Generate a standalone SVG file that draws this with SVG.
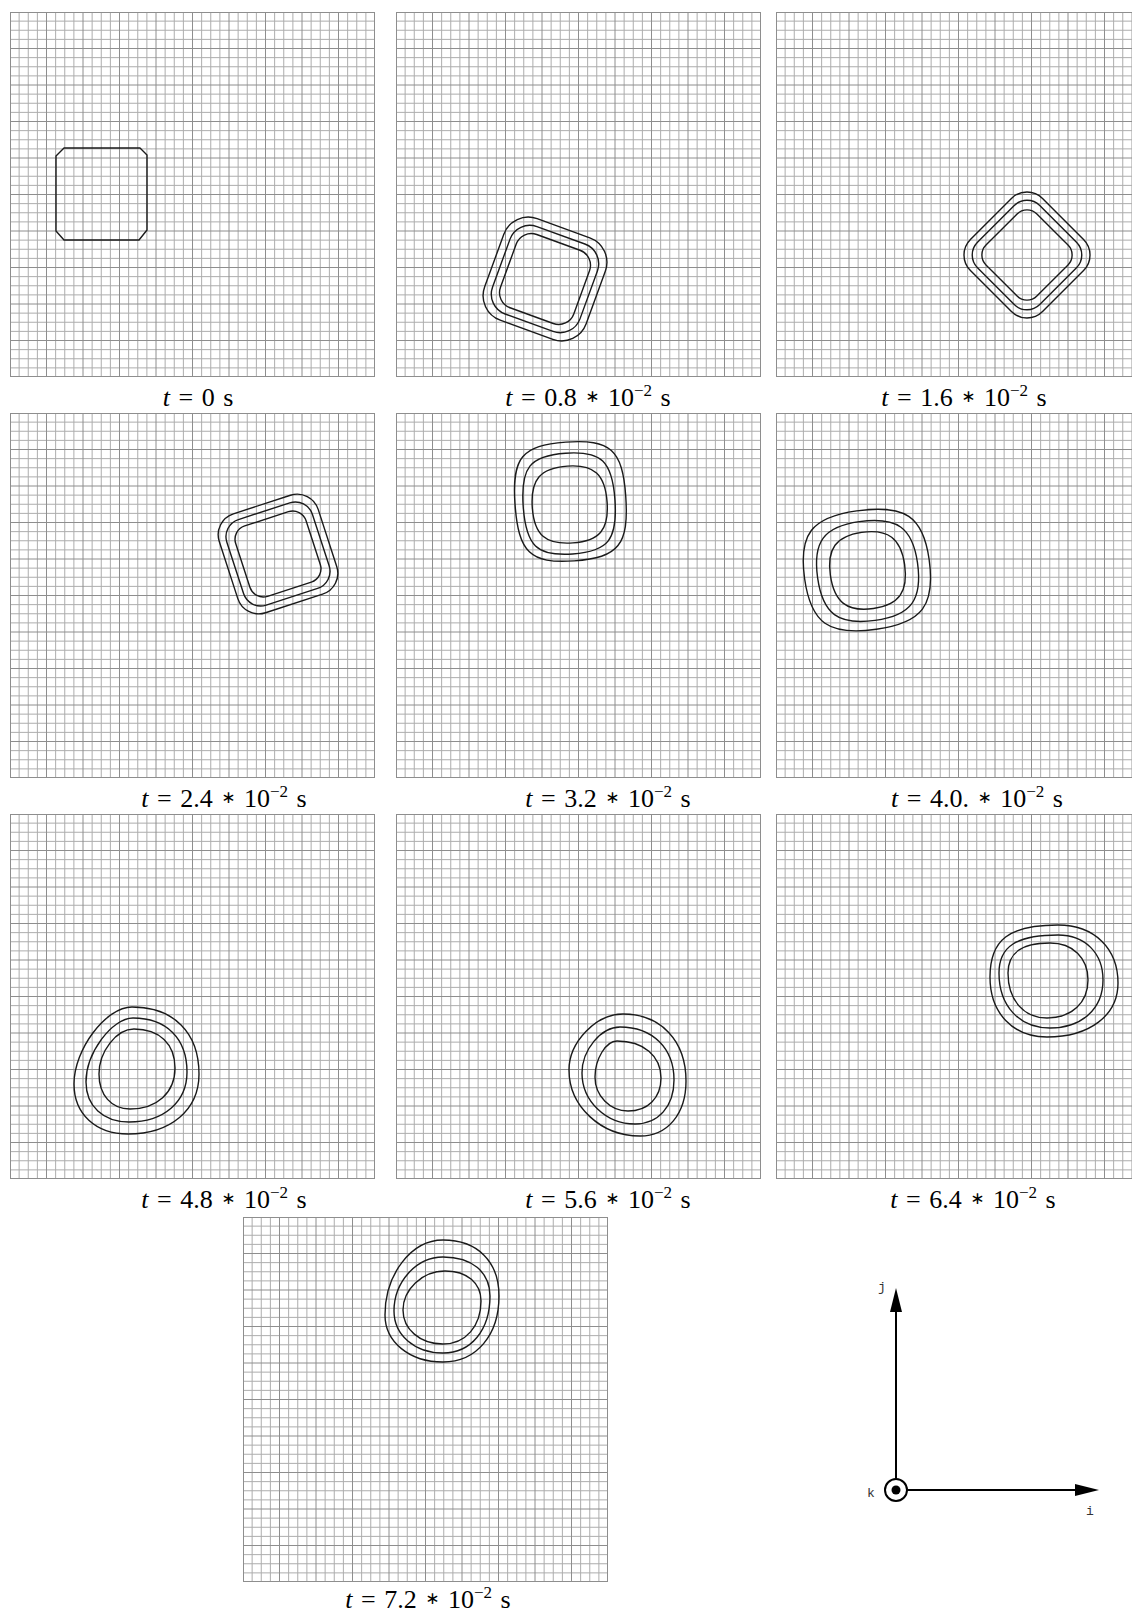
<svg xmlns="http://www.w3.org/2000/svg" width="1132" height="1614" viewBox="0 0 1132 1614">
<style>
.g1{fill:none;stroke:#adadad;stroke-width:1}
.g2{fill:none;stroke:#8e8e8e;stroke-width:1}
.c{fill:none;stroke:#1a1a1a;stroke-width:1.4;stroke-linejoin:round}
.lbl{font-family:"Liberation Serif","Times New Roman",serif;font-size:26px;fill:#000;word-spacing:2px}
.sup{font-size:17px}
.ast{font-family:"DejaVu Sans",sans-serif;font-size:17px}
.ax{fill:none;stroke:#000;stroke-width:2}
.axl{font-family:"Liberation Mono","Courier New",monospace;font-size:13px;fill:#333}
</style>
<defs>
<symbol id="grid" viewBox="0 0 365 365" preserveAspectRatio="none" style="overflow:visible">
<path class="g1" d="M9.125 0V365M18.25 0V365M27.375 0V365M45.625 0V365M54.75 0V365M63.875 0V365M82.125 0V365M91.25 0V365M100.375 0V365M118.625 0V365M127.75 0V365M136.875 0V365M155.125 0V365M164.25 0V365M173.375 0V365M191.625 0V365M200.75 0V365M209.875 0V365M228.125 0V365M237.25 0V365M246.375 0V365M264.625 0V365M273.75 0V365M282.875 0V365M301.125 0V365M310.25 0V365M319.375 0V365M337.625 0V365M346.75 0V365M355.875 0V365M0 9.125H365M0 18.25H365M0 27.375H365M0 45.625H365M0 54.75H365M0 63.875H365M0 82.125H365M0 91.25H365M0 100.375H365M0 118.625H365M0 127.75H365M0 136.875H365M0 155.125H365M0 164.25H365M0 173.375H365M0 191.625H365M0 200.75H365M0 209.875H365M0 228.125H365M0 237.25H365M0 246.375H365M0 264.625H365M0 273.75H365M0 282.875H365M0 301.125H365M0 310.25H365M0 319.375H365M0 337.625H365M0 346.75H365M0 355.875H365"/>
<path class="g2" d="M0.5 0V365M36.5 0V365M73 0V365M109.5 0V365M146 0V365M182.5 0V365M219 0V365M255.5 0V365M292 0V365M328.5 0V365M364.5 0V365M0 0.5H365M0 36.5H365M0 73H365M0 109.5H365M0 146H365M0 182.5H365M0 219H365M0 255.5H365M0 292H365M0 328.5H365M0 364.5H365"/>
</symbol>
<marker id="arr" markerUnits="userSpaceOnUse" markerWidth="24" markerHeight="12" refX="0" refY="6" orient="auto" viewBox="0 0 24 12"><path d="M0 0L24 6L0 12Z" fill="#000"/></marker>
</defs>
<rect width="1132" height="1614" fill="#fff"/>

<g id="panel-t0">
<use href="#grid" x="10" y="12" width="365" height="365"/>
<path class="c" d="M64 148L140 148L147 155L147 230L139 240L64 240L56 231L56 156Z"/>
<text class="lbl" x="198" y="406" text-anchor="middle"><tspan font-style="italic">t</tspan> = 0 s</text>
</g>

<g id="panel-t08">
<use href="#grid" x="396" y="12" width="365" height="365"/>
<g transform="rotate(20 545 279)">
<rect class="c" x="491" y="225" width="108" height="108" rx="26"/>
<rect class="c" x="498.5" y="232.5" width="93" height="93" rx="21"/>
<rect class="c" x="506" y="240" width="78" height="78" rx="16"/>
</g>
<text class="lbl" x="588" y="406" text-anchor="middle"><tspan font-style="italic">t</tspan> = 0.8 <tspan class="ast" dy="-4">∗</tspan><tspan dy="4"> 10</tspan><tspan class="sup" dy="-10">−2</tspan><tspan dy="10"> s</tspan></text>
</g>

<g id="panel-t16">
<use href="#grid" x="776" y="12" width="365" height="365"/>
<g transform="rotate(45 1027 255)">
<rect class="c" x="976" y="204" width="102" height="102" rx="22"/>
<rect class="c" x="983" y="211" width="88" height="88" rx="18"/>
<rect class="c" x="991" y="219" width="72" height="72" rx="14"/>
</g>
<text class="lbl" x="964" y="406" text-anchor="middle"><tspan font-style="italic">t</tspan> = 1.6 <tspan class="ast" dy="-4">∗</tspan><tspan dy="4"> 10</tspan><tspan class="sup" dy="-10">−2</tspan><tspan dy="10"> s</tspan></text>
</g>

<g id="panel-t24">
<use href="#grid" x="10" y="413" width="365" height="365"/>
<g transform="rotate(-18 278 554)">
<rect class="c" x="226" y="502" width="104" height="104" rx="22"/>
<rect class="c" x="233" y="509" width="90" height="90" rx="18"/>
<rect class="c" x="241" y="517" width="74" height="74" rx="14"/>
</g>
<text class="lbl" x="224" y="807" text-anchor="middle"><tspan font-style="italic">t</tspan> = 2.4 <tspan class="ast" dy="-4">∗</tspan><tspan dy="4"> 10</tspan><tspan class="sup" dy="-10">−2</tspan><tspan dy="10"> s</tspan></text>
</g>

<g id="panel-t32">
<use href="#grid" x="396" y="413" width="365" height="365"/>
<g transform="rotate(-4 570 502)">
<path class="c" d="M570 442C614.8 442 626 453.6 626 500C626 548.8 614.8 561 570 561C526 561 515 548.8 515 500C515 453.6 526 442 570 442Z"/>
<path class="c" d="M569 453C604.9 453 615 464 615 503C615 542.8 604.9 554 569 554C533.1 554 523 542.8 523 503C523 464 533.1 453 569 453Z"/>
<path class="c" d="M570 466C596.6 466 607 476.9 607 505C607 532.4 596.6 543 570 543C542.6 543 532 532.4 532 505C532 476.9 542.6 466 570 466Z"/>
</g>
<text class="lbl" x="608" y="807" text-anchor="middle"><tspan font-style="italic">t</tspan> = 3.2 <tspan class="ast" dy="-4">∗</tspan><tspan dy="4"> 10</tspan><tspan class="sup" dy="-10">−2</tspan><tspan dy="10"> s</tspan></text>
</g>

<g id="panel-t40">
<use href="#grid" x="776" y="413" width="365" height="365"/>
<g transform="rotate(-8 867 570)">
<path class="c" d="M865 510C913.75 510 930 524.5 930 568C930 614.5 914.5 630 868 630C820 630 804 615 804 570C804 525 819.25 510 865 510Z"/>
<path class="c" d="M866 521C904 521 918 534.2 918 570C918 607.2 904.5 621 868 621C830.8 621 817 607.5 817 571C817 534.5 830.2 521 866 521Z"/>
<path class="c" d="M867 532C893.6 532 905 543.4 905 570C905 597.3 893.9 609 868 609C841.4 609 830 597.3 830 570C830 543.4 841.1 532 867 532Z"/>
</g>
<text class="lbl" x="977" y="807" text-anchor="middle"><tspan font-style="italic">t</tspan> = 4.0. <tspan class="ast" dy="-4">∗</tspan><tspan dy="4"> 10</tspan><tspan class="sup" dy="-10">−2</tspan><tspan dy="10"> s</tspan></text>
</g>

<g id="panel-t48">
<use href="#grid" x="10" y="814" width="365" height="365"/>
<path class="c" d="M132 1007C173.5 1007 199 1032.5 199 1074C199 1110 170.6 1134 128 1134C95.6 1134 74 1114 74 1084C74 1049.4 105.9 1007 132 1007Z"/>
<path class="c" d="M133 1018C166.5 1018 187 1038.5 187 1072C187 1102 163.8 1122 129 1122C103.2 1122 86 1106 86 1082C86 1053.2 111.9 1018 133 1018Z"/>
<path class="c" d="M134 1029C159.4 1029 175 1043.8 175 1068C175 1092.6 157 1109 130 1109C111.4 1109 99 1095 99 1074C99 1051.5 116.5 1029 134 1029Z"/>
<text class="lbl" x="224" y="1208" text-anchor="middle"><tspan font-style="italic">t</tspan> = 4.8 <tspan class="ast" dy="-4">∗</tspan><tspan dy="4"> 10</tspan><tspan class="sup" dy="-10">−2</tspan><tspan dy="10"> s</tspan></text>
</g>

<g id="panel-t56">
<use href="#grid" x="396" y="814" width="365" height="365"/>
<path class="c" d="M623 1014C660.8 1014 686 1040.8 686 1081C686 1114 667.6 1136 640 1136C600.95 1136 569 1106.3 569 1070C569 1042 596 1014 623 1014Z"/>
<path class="c" d="M620 1027C652.4 1027 674 1048.2 674 1080C674 1106.4 658.4 1124 635 1124C605.85 1124 582 1101 582 1073C582 1050 601 1027 620 1027Z"/>
<path class="c" d="M617 1041C643.4 1041 661 1055.8 661 1078C661 1097.8 647.8 1111 628 1111C609.850 1111 595 1095.7 595 1077C595 1059 606 1041 617 1041Z"/>
<text class="lbl" x="608" y="1208" text-anchor="middle"><tspan font-style="italic">t</tspan> = 5.6 <tspan class="ast" dy="-4">∗</tspan><tspan dy="4"> 10</tspan><tspan class="sup" dy="-10">−2</tspan><tspan dy="10"> s</tspan></text>
</g>

<g id="panel-t64">
<use href="#grid" x="776" y="814" width="365" height="365"/>
<path class="c" d="M1058 925C1094 925 1118 948.2 1118 983C1118 1015.4 1089.6 1037 1047 1037C1012.8 1037 990 1013 990 977C990 939.6 1009 925 1058 925Z"/>
<path class="c" d="M1058 935C1085 935 1103 953 1103 980C1103 1008.8 1081.8 1028 1050 1028C1019.4 1028 999 1006 999 973C999 946.4 1016.7 935 1058 935Z"/>
<path class="c" d="M1050 943C1072.8 943 1088 957.8 1088 980C1088 1002.8 1071.6 1018 1047 1018C1023.6 1018 1008 1000 1008 973C1008 952.6 1021.4 943 1050 943Z"/>
<text class="lbl" x="973" y="1208" text-anchor="middle"><tspan font-style="italic">t</tspan> = 6.4 <tspan class="ast" dy="-4">∗</tspan><tspan dy="4"> 10</tspan><tspan class="sup" dy="-10">−2</tspan><tspan dy="10"> s</tspan></text>
</g>

<g id="panel-t72">
<use href="#grid" x="243" y="1217" width="365" height="365"/>
<path class="c" d="M443 1240C477.7 1240 499 1261.7 499 1296C499 1335 476.6 1362 443 1362C409.4 1362 385 1342 385 1315C385 1274.6 411.1 1240 443 1240Z"/>
<path class="c" d="M443 1257C472.1 1257 490 1272.2 490 1296C490 1330 471.2 1353 443 1353C414.6 1353 394 1335 394 1311C394 1282.2 416 1257 443 1257Z"/>
<path class="c" d="M445 1271C467.3 1271 481 1283.2 481 1301C481 1326 465.8 1344 443 1344C419.8 1344 403 1329 403 1310C403 1289.9 421.9 1271 445 1271Z"/>
<text class="lbl" x="428" y="1608" text-anchor="middle"><tspan font-style="italic">t</tspan> = 7.2 <tspan class="ast" dy="-4">∗</tspan><tspan dy="4"> 10</tspan><tspan class="sup" dy="-10">−2</tspan><tspan dy="10"> s</tspan></text>
</g>

<g id="axes">
<g id="connectors">
<line class="ax" x1="896" y1="1479" x2="896" y2="1312" marker-end="url(#arr)"/>
<line class="ax" x1="907" y1="1490" x2="1075" y2="1490" marker-end="url(#arr)"/>
</g>
<circle cx="896" cy="1490" r="11" fill="#fff" stroke="#000" stroke-width="2"/>
<circle cx="896" cy="1490" r="4.5" fill="#000"/>
<text class="axl" x="878" y="1291">j</text>
<text class="axl" x="867" y="1497">k</text>
<text class="axl" x="1086" y="1515">i</text>
</g>
</svg>
